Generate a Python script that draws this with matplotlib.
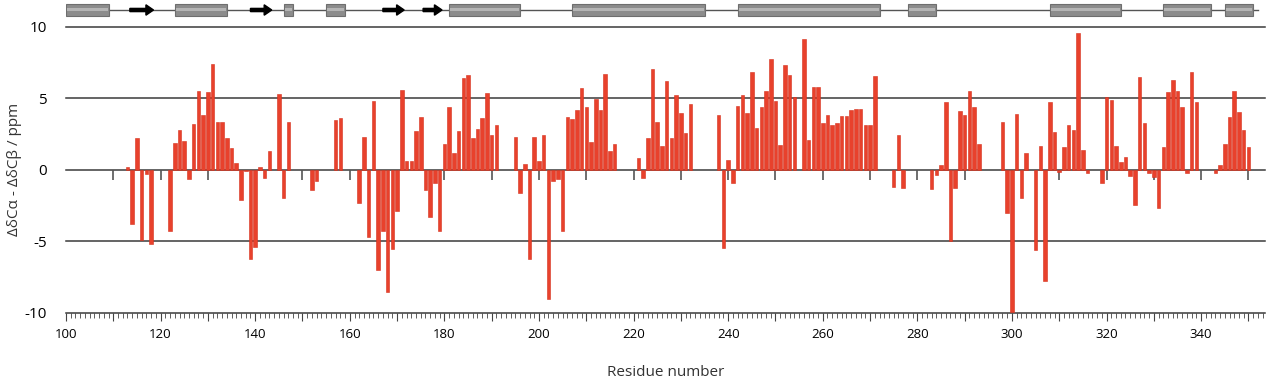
import numpy as np
import matplotlib.pyplot as plt
from matplotlib.patches import Rectangle, FancyArrow
from matplotlib.ticker import MultipleLocator

plt.rcParams['font.family'] = ['Open Sans', 'DejaVu Sans']

# residue numbers and secondary chemical shift difference (ppm)
residue = [113, 114, 115, 116, 117, 118, 122, 123, 124, 125, 126, 127, 128, 129, 130,
           131, 132, 133, 134, 135, 136, 137, 138, 139, 140, 141, 142, 143, 145, 146,
           147, 152, 153, 157, 158, 162, 163, 164, 165, 166, 167, 168, 169, 170, 171,
           172, 173, 174, 175, 176, 177, 178, 179, 180, 181, 182, 183, 184, 185, 186,
           187, 188, 189, 190, 191, 195, 196, 197, 198, 199, 200, 201, 202, 203, 204,
           205, 206, 207, 208, 209, 210, 211, 212, 213, 214, 215, 216, 221, 222, 223,
           224, 225, 226, 227, 228, 229, 230, 231, 232, 238, 239, 240, 241, 242, 243,
           244, 245, 246, 247, 248, 249, 250, 251, 252, 253, 254, 256, 257, 258, 259,
           260, 261, 262, 263, 264, 265, 266, 267, 268, 269, 270, 271, 275, 276, 277,
           283, 284, 285, 286, 287, 288, 289, 290, 291, 292, 293, 298, 299, 300, 301,
           302, 303, 305, 306, 307, 308, 309, 310, 311, 312, 313, 314, 315, 316, 319,
           320, 321, 322, 323, 324, 325, 326, 327, 328, 329, 330, 331, 332, 333, 334,
           335, 336, 337, 338, 339, 343, 344, 345, 346, 347, 348, 349, 350]
delta = [0.2, -3.8, 2.2, -4.9, -0.3, -5.2, -4.3, 1.9, 2.8, 2.0, -0.65, 3.2, 5.5, 3.8, 5.4,
         7.4, 3.3, 3.3, 2.2, 1.5, 0.5, -2.1, -0.1, -6.2, -5.4, 0.2, -0.6, 1.3, 5.3, -2.0,
         3.3, -1.4, -0.8, 3.5, 3.6, -2.3, 2.3, -4.7, 4.8, -7.0, -4.3, -8.5, -5.5, -2.9, 5.6,
         0.6, 0.6, 2.7, 3.7, -1.4, -3.3, -0.95, -4.3, 1.8, 4.4, 1.2, 2.7, 6.4, 6.6, 2.2,
         2.85, 3.6, 5.35, 2.4, 3.15, 2.3, -1.65, 0.4, -6.2, 2.3, 0.6, 2.45, -9.0, -0.8, -0.65,
         -4.3, 3.7, 3.55, 4.2, 5.7, 4.4, 1.95, 4.95, 4.2, 6.65, 1.3, 1.8, 0.8, -0.55, 2.2,
         7.0, 3.35, 1.65, 6.2, 2.2, 5.2, 3.95, 2.55, 4.6, 3.8, -5.45, 0.7, -0.9, 4.45, 5.2,
         3.95, 6.85, 2.9, 4.4, 5.5, 7.75, 4.8, 1.75, 7.3, 6.6, 5.05, 9.15, 2.1, 5.75, 5.75,
         3.25, 3.8, 3.1, 3.25, 3.75, 3.75, 4.15, 4.25, 4.25, 3.1, 3.15, 6.55, -1.2, 2.4, -1.25,
         -1.35, -0.35, 0.3, 4.75, -5.0, -1.3, 4.1, 3.8, 5.5, 4.4, 1.8, 3.35, -3.0, -9.9, 3.9,
         -1.95, 1.2, -5.6, 1.65, -7.8, 4.7, 2.65, -0.15, 1.6, 3.15, 2.75, 9.55, 1.35, -0.25, -0.95,
         5.05, 4.9, 1.65, 0.55, 0.9, -0.45, -2.45, 6.5, 3.25, -0.2, -0.5, -2.7, 1.6, 5.45, 6.25,
         5.5, 4.4, -0.25, 6.85, 4.7, -0.25, 0.3, 1.8, 3.65, 5.5, 4.05, 2.8, 1.6]

# secondary structure (residue ranges)
helix_start = [100, 123, 146, 155, 181, 207, 242, 278, 308, 332, 345]
helix_end = [109, 134, 148, 159, 196, 235, 272, 284, 323, 342, 351]
strand_start = [113.5, 139, 167, 175.5]
strand_end = [118.5, 143.5, 171.5, 179.5]

fig = plt.figure(figsize=(12.76, 3.85), dpi=100)
ax = fig.add_axes([66 / 1276, 1 - 313 / 385, 1199 / 1276, 286.5 / 385])
xmin, xmax = 100, 353.5

ax.bar(residue, delta, width=0.75, color='#e8412c', edgecolor='#d5301c', linewidth=0.4, zorder=3)
for y in [-10, -5, 0, 5, 10]:
    ax.axhline(y, color='#3a3a3a', lw=1.1, zorder=2, clip_on=False)
ax.vlines(np.arange(110, 351, 10), 0, -0.75, color='#555555', lw=1.2, zorder=2)

ax.set_xlim(xmin, xmax)
ax.set_ylim(-10, 10)
for s in ax.spines.values():
    s.set_visible(False)
ax.set_yticks([-10, -5, 0, 5, 10])
ax.set_yticklabels(['-10', '-5', '0', '5', '10'], fontsize=11)
ax.tick_params(axis='y', length=0, pad=14)
ax.set_xticks(np.arange(100, 351, 10))
ax.set_xticklabels([str(v) if v % 20 == 0 else '' for v in range(100, 351, 10)], fontsize=9.5)
ax.xaxis.set_minor_locator(MultipleLocator(1))
ax.tick_params(axis='x', which='major', length=6, width=0.8, color='#444444', pad=5)
ax.tick_params(axis='x', which='minor', length=3.5, width=0.6, color='#444444')
ax.set_xlabel('Residue number', fontsize=11, labelpad=17, color='#333333')
ax.set_ylabel('ΔδCα - ΔδCβ / ppm', fontsize=11, color='#333333')
ax.yaxis.set_label_coords(-44 / 1199, 0.5)

# secondary structure strip
ss = fig.add_axes([66 / 1276, 1 - 18 / 385, 1199 / 1276, 16 / 385])
ss.set_xlim(xmin, xmax)
ss.set_ylim(-1, 1)
ss.axis('off')
ss.plot([xmin, xmax - 1.5], [0, 0], color='#555555', lw=1, zorder=1)
for a, b in zip(helix_start, helix_end):
    ss.add_patch(Rectangle((a, -0.7), b - a, 1.4, facecolor='#8c8c8c', edgecolor='#6e6e6e', lw=0.8, zorder=2))
    ss.add_patch(Rectangle((a + 0.2, -0.1), b - a - 0.4, 0.35, facecolor='#b5b5b5', edgecolor='none', zorder=3))
for a, b in zip(strand_start, strand_end):
    ss.add_patch(FancyArrow(a, 0, b - a, 0, width=0.4, head_width=1.3, head_length=1.6,
                            length_includes_head=True, color='black', zorder=3))

fig.savefig('out.png', dpi=100)
